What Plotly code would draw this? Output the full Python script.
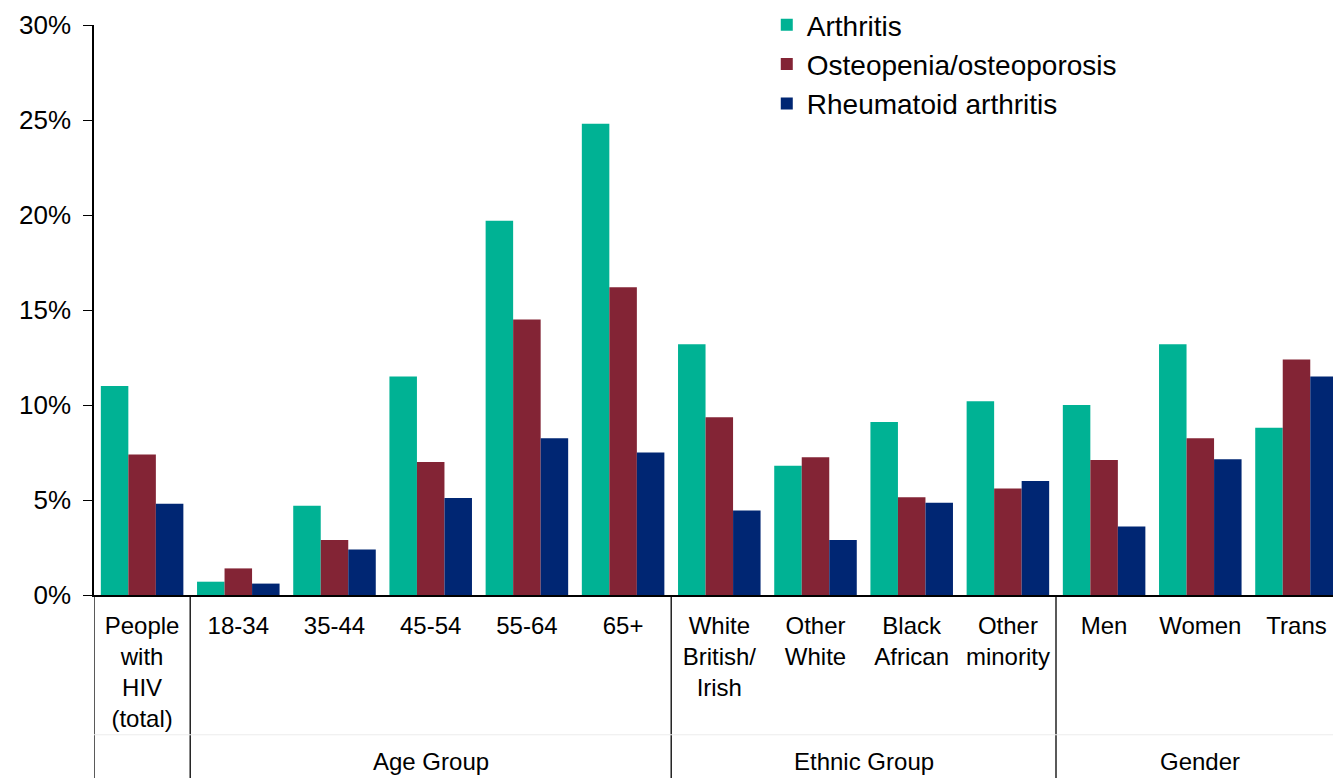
import plotly.graph_objects as go

categories = ["People<br>with<br>HIV<br>(total)", "18-34", "35-44", "45-54", "55-64", "65+",
              "White<br>British/<br>Irish", "Other<br>White", "Black<br>African", "Other<br>minority",
              "Men", "Women", "Trans"]
arthritis = [11.0, 0.7, 4.7, 11.5, 19.7, 24.8, 13.2, 6.8, 9.1, 10.2, 10.0, 13.2, 8.8]
osteo = [7.4, 1.4, 2.9, 7.0, 14.5, 16.2, 9.35, 7.25, 5.15, 5.6, 7.1, 8.25, 12.4]
rheum = [4.8, 0.6, 2.4, 5.1, 8.25, 7.5, 4.45, 2.9, 4.85, 6.0, 3.6, 7.15, 11.5]
series_names = ["Arthritis", "Osteopenia/osteoporosis", "Rheumatoid arthritis"]
colors = ["#00B294", "#832435", "#002673"]
groups = [("", 0, 0), ("Age Group", 1, 5), ("Ethnic Group", 6, 9), ("Gender", 10, 12)]
y_ticks = [0, 5, 10, 15, 20, 25, 30]

FONT = "Liberation Sans, Arial, sans-serif"
fig = go.Figure()
for name, vals, c in zip(series_names, [arthritis, osteo, rheum], colors):
    fig.add_trace(go.Bar(x=list(range(len(categories))), y=vals, name=name,
                         marker=dict(color=c, line=dict(width=0))))

H_PLOT = 595 - 24
bottom_paper = -(778 - 595) / H_PLOT
shapes = []
for label, a, b in groups:
    shapes.append(dict(type="line", xref="x", yref="paper", x0=a - 0.5, x1=a - 0.5,
                       y0=0, y1=bottom_paper - 0.05, line=dict(color="black", width=1.3)))
shapes.append(dict(type="line", xref="paper", yref="paper", x0=0, x1=1,
                   y0=-(735 - 595) / H_PLOT, y1=-(735 - 595) / H_PLOT,
                   line=dict(color="#ececec", width=1)))
annotations = []
for label, a, b in groups:
    if label:
        annotations.append(dict(text=label, xref="x", yref="paper", x=(a + b) / 2,
                                y=-(762 - 595) / H_PLOT, yanchor="middle", xanchor="center",
                                showarrow=False, font=dict(size=24, color="black", family=FONT)))

fig.update_layout(
    width=1333, height=778,
    margin=dict(l=94, r=0, t=24, b=183),
    plot_bgcolor="white", paper_bgcolor="white",
    font=dict(family=FONT, color="black", size=24),
    barmode="group", bargap=0.142, bargroupgap=0,
    showlegend=True,
    legend=dict(x=0.543, y=1.043, xanchor="left", yanchor="top",
                font=dict(size=28, color="black", family=FONT),
                bgcolor="rgba(0,0,0,0)", tracegroupgap=0, itemwidth=30),
    shapes=shapes, annotations=annotations,
)
fig.update_xaxes(range=[-0.5, -0.5 + (1333 - 94) / 96.2], tickmode="array",
                 tickvals=list(range(len(categories))), ticktext=categories,
                 showline=True, linecolor="black", linewidth=1.5, ticks="",
                 showgrid=False, zeroline=False, tickangle=0,
                 tickfont=dict(size=24, family=FONT, color="black"), ticklabelstandoff=8)
fig.update_yaxes(range=[0, 30], tickmode="array", tickvals=y_ticks,
                 ticktext=[f"{v}%" for v in y_ticks],
                 showline=True, linecolor="black", linewidth=1.5, ticks="outside",
                 ticklen=9, tickcolor="black", tickwidth=1.3, showgrid=False, zeroline=False,
                 ticklabelstandoff=7,
                 tickfont=dict(size=26, family=FONT, color="black"))
fig.write_html("out.html")
